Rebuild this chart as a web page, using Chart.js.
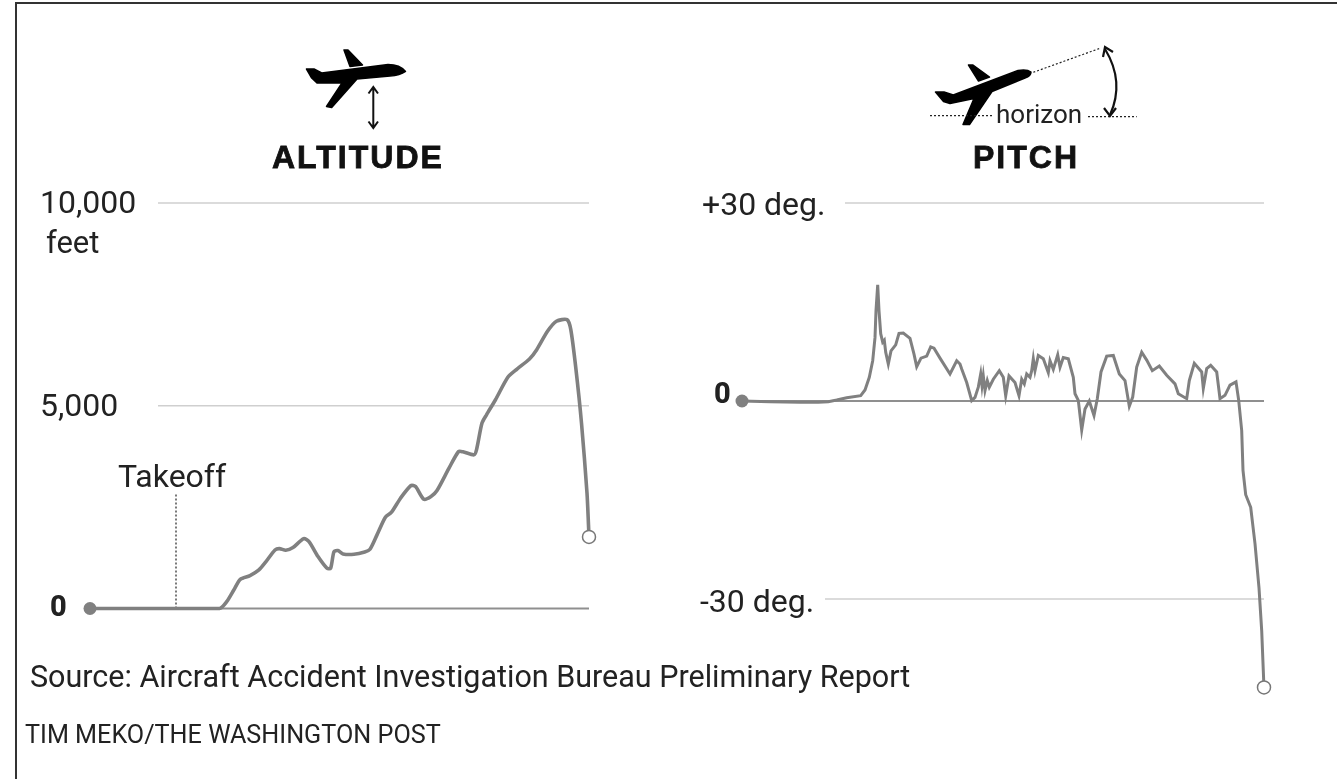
<!DOCTYPE html>
<html>
<head>
<meta charset="utf-8">
<title>Altitude and pitch</title>
<script src="https://cdn.jsdelivr.net/npm/chart.js@4/dist/chart.umd.min.js"></script>
<style>
    html, body { margin: 0; padding: 0; background: #fff; }
    #page { position: relative; width: 1337px; height: 779px; overflow: hidden; font-family: Roboto, sans-serif; color: #222; }
    #page::before { content: ''; position: absolute; left: 15px; top: 2px; right: -5px; bottom: -5px; border-left: 2px solid #333; border-top: 2px solid #333; }
    canvas { position: absolute; top: 0; }
    #altChart { left: 0; }
    #pitchChart { left: 668px; }
    #icons { position: absolute; left: 0; top: 0; }
    .txt { position: absolute; white-space: nowrap; line-height: 1; }
    .head { font-family: 'Liberation Sans', sans-serif; font-weight: 700; font-size: 32px; letter-spacing: 2px; color: #111; -webkit-text-stroke: 0.8px #111; }
</style>
</head>
<body>
<div id="page">
    <canvas id="altChart" width="668" height="779"></canvas>
    <canvas id="pitchChart" width="669" height="779"></canvas>
    <svg id="icons" width="1337" height="779" fill="#000">
        <g stroke="#000" stroke-width="1.5" stroke-linejoin="round">
            <path d="M306.5 69 L314 69 L321.7 73 L388 64.5 Q400 64.5 405.5 71.5 Q400 75.5 390 76 L357 79 L331.7 107.5 L326.5 106.5 L342 83 L317 83 L311.7 78 Z"/>
            <path d="M344 50 L348 50 L362.5 65 L350 66.5 Z"/>
            <path d="M935.5 92 L944 92 L953.3 95 L1018 70.5 Q1027 69 1031 72 Q1031 76 1025 78 L992 91.5 L969.5 124.5 L963 124.5 L974 98.5 L950 103.5 L943.5 101.5 Z"/>
            <path d="M968.5 65 L973 65 L989.5 77 L978.5 81 Z"/>
        </g>
        <path d="M373.3 88 V127 M368.5 93.5 L373.3 87 L378 93.5 M368.5 121.5 L373.3 128 L378 121.5" fill="none" stroke="#111" stroke-width="2"/>
        <path d="M1033.3 72.3 L1100 48.3" fill="none" stroke="#222" stroke-width="1.2" stroke-dasharray="2 2"/>
        <path d="M930 115.7 H993.3 M1088 116.7 H1136.7" fill="none" stroke="#222" stroke-width="1.2" stroke-dasharray="2 2"/>
        <path d="M1105 49 Q1125 82 1110 115" fill="none" stroke="#111" stroke-width="2.2"/>
        <path d="M1103 57 L1105 47 L1113 52 M1104 108 L1110 116 L1116 108" fill="none" stroke="#111" stroke-width="2.2"/>
    </svg>
    <div class="txt head" style="left:272px;top:141px">ALTITUDE</div>
    <div class="txt head" style="left:973px;top:141px">PITCH</div>
    <div class="txt" style="left:996px;top:101px;font-size:26px">horizon</div>
    <div class="txt" style="left:46px;top:227px;font-size:31px">feet</div>
    <div class="txt" style="left:30px;top:662px;font-size:30.5px">Source: Aircraft Accident Investigation Bureau Preliminary Report</div>
    <div class="txt" style="left:25px;top:722px;font-size:25.2px">TIM MEKO/THE WASHINGTON POST</div>
</div>
<script>
(function () {
    'use strict';

    // ─── DATA ───
    const altTime = [0, 60, 129.5, 136.7, 143.8, 150.3, 160, 168.9, 176, 185, 189.4, 195.8, 203, 213.7, 219, 228, 237, 240.6, 244, 247.8, 253, 264, 274.7, 280, 287, 295.4, 301.5, 310.5, 321, 325.6, 333.8, 341, 347, 359, 368.6, 373, 384, 386.5, 392, 396.5, 405.5, 418, 427, 439.5, 446.7, 457.5, 466.4, 477, 480.8, 486, 491.5, 497, 499];
    const altFeet = [0, 0, 0, 169, 457, 720, 811, 951, 1156, 1444, 1477, 1436, 1502, 1724, 1650, 1280, 992, 992, 1403, 1428, 1346, 1337, 1395, 1461, 1815, 2251, 2374, 2720, 3033, 3008, 2695, 2761, 2909, 3461, 3872, 3864, 3790, 3913, 4572, 4777, 5148, 5707, 5905, 6152, 6382, 6835, 7082, 7123, 6876, 5888, 4572, 2843, 1765];
    const altTicks = [10000, 5000, 0];
    const altTickLabels = ['10,000', '5,000', '0'];
    const altGridStart = [68, 68, 0];
    const takeoffTime = 86;
    const takeoffTop = 2850;

    const pitchTime = [0, 28, 58, 76.3, 86.3, 94.7, 104.7, 118.7, 123, 127.3, 130.7, 133, 134, 135.7, 137, 138.7, 140.7, 142.3, 143.7, 146.3, 149, 153.7, 157, 161.3, 168, 172, 174.7, 179, 184.7, 188.7, 192, 198, 208, 214.7, 218, 219.7, 224.7, 229.7, 233, 236.3, 238.7, 240, 241.3, 243, 245.3, 247.3, 251.3, 257.3, 261.3, 263.7, 267, 273, 277, 279.7, 282.3, 284.7, 288, 289.7, 291.3, 293, 296.3, 301.3, 306.3, 308, 311.3, 315.7, 318, 321.3, 326.3, 331.3, 333, 336.3, 339.7, 343, 347.3, 352, 355.3, 359, 364.7, 371.3, 377.3, 383, 387.3, 390.7, 394.7, 399.7, 404.7, 410.3, 417.3, 424.7, 433, 436.3, 444.7, 447.3, 452.3, 459.7, 461.3, 464.7, 468.7, 474.7, 478, 483, 488, 494, 496.7, 499.7, 501, 503.7, 508.7, 513, 517, 519.7, 521.7, 522];
    const pitchDeg = [0, -0.1, -0.2, -0.2, -0.1, 0.15, 0.5, 0.8, 1.67, 3.6, 6.1, 9.6, 13.7, 17.6, 13.7, 10.2, 8.9, 9.2, 7.4, 5.6, 7.6, 8.5, 10.25, 10.3, 9.5, 7.1, 5.2, 6.5, 6.8, 8.2, 8, 6.5, 4.1, 6.1, 5.6, 4.85, 2.8, 0.05, 0.55, 2.1, 4.1, 2.3, 3.8, 1.6, 3.1, 2.1, 3.3, 4.6, 3.6, 0.8, 3.8, 2.8, 0.8, 3.3, 2.6, 4.1, 3.6, 4.6, 6.4, 4.6, 6.9, 6.4, 4.3, 6.1, 4.8, 7, 5.1, 6.6, 6.4, 3.6, 1.1, 0.1, -4.4, -1.2, 0, -2.2, 0.35, 4.4, 6.8, 6.9, 4.1, 3.1, -0.8, 0.6, 5.15, 7.4, 6.2, 4.6, 5.3, 3.9, 2.6, 1.1, 0.35, 3.1, 5.7, 4.4, 1.9, 4.9, 5.4, 4.4, 0.35, 0.86, 2.4, 2.9, 0.1, -4.5, -10.5, -14.2, -16.1, -21.6, -28.3, -34.8, -42.4, -43.4];
    const pitchTicks = [30, 0, -30];
    const pitchTickLabels = ['+30 deg.', '0', '-30 deg.'];
    const pitchGridStart = [103, 0, 83];

    const LINE = '#808080';
    const GRID = '#cfcfcf';
    const BASE = '#8f8f8f';

    // ─── HELPERS ───
    const toPoints = (xs, ys) => xs.map((x, i) => ({ x, y: ys[i] }));

    function gridSets(ticks, starts, xEnd) {
        return ticks.map((t, i) => ({
            data: [{ x: starts[i], y: t }, { x: xEnd, y: t }],
            borderColor: t === 0 ? BASE : GRID,
            borderWidth: t === 0 ? 1.8 : 1.4,
            pointRadius: 0,
            clip: false,
            order: 5
        }));
    }

    // y axis labels sit at the scale's own pixel for each tick
    function tickLabelPlugin(ticks, labels, lefts, nudges) {
        return {
            id: 'tickLabels',
            afterDraw(chart) {
                const { ctx, scales } = chart;
                ctx.save();
                ctx.textBaseline = 'middle';
                ctx.fillStyle = '#222';
                ticks.forEach((t, i) => {
                    ctx.font = t === 0 ? '800 29px Roboto' : '400 32px Roboto';
                    ctx.fillText(labels[i], lefts[i], scales.y.getPixelForValue(t) + nudges[i]);
                });
                ctx.restore();
            }
        };
    }

    function makeChart(id, datasets, xMax, yMin, yMax, padding, plugins) {
        return new Chart(document.getElementById(id), {
            type: 'line',
            data: { datasets },
            options: {
                responsive: false,
                animation: false,
                layout: { padding },
                plugins: { legend: { display: false }, tooltip: { enabled: false } },
                scales: {
                    x: { type: 'linear', min: 0, max: xMax, display: false },
                    y: { type: 'linear', min: yMin, max: yMax, display: false }
                }
            },
            plugins
        });
    }

    function endDots(first, last) {
        return [{
            data: [first],
            pointRadius: 6.5, pointBackgroundColor: LINE, pointBorderColor: LINE, pointBorderWidth: 0,
            showLine: false, clip: false, order: 0
        }, {
            data: [last],
            pointRadius: 6.5, pointBackgroundColor: '#fff', pointBorderColor: '#777', pointBorderWidth: 1.5,
            showLine: false, clip: false, order: 0
        }];
    }

    // ─── ALTITUDE ───
    const altPoints = toPoints(altTime, altFeet);
    makeChart('altChart', [
        ...endDots(altPoints[0], altPoints[altPoints.length - 1]),
        { data: altPoints, borderColor: LINE, borderWidth: 3.6, tension: 0.25, pointRadius: 0, clip: false, order: 1 },
        { data: [{ x: takeoffTime, y: 0 }, { x: takeoffTime, y: takeoffTop }], borderColor: '#222', borderWidth: 1.2, borderDash: [2, 2], pointRadius: 0, clip: false, order: 2 },
        ...gridSets(altTicks, altGridStart, 499)
    ], 499, 0, 10000, { left: 90, right: 79, top: 203, bottom: 170.5 }, [
        tickLabelPlugin(altTicks, altTickLabels, [40, 40, 50], [2, 2, 0]),
        {
            id: 'takeoffLabel',
            afterDraw(chart) {
                const { ctx, scales } = chart;
                ctx.save();
                ctx.font = '400 32px Roboto';
                ctx.fillStyle = '#222';
                ctx.textBaseline = 'alphabetic';
                ctx.fillText('Takeoff', 118, scales.y.getPixelForValue(takeoffTop) - 6);
                ctx.restore();
            }
        }
    ]);

    // ─── PITCH ───
    const pitchPoints = toPoints(pitchTime, pitchDeg);
    makeChart('pitchChart', [
        ...endDots(pitchPoints[0], pitchPoints[pitchPoints.length - 1]),
        { data: pitchPoints, borderColor: LINE, borderWidth: 3, tension: 0, pointRadius: 0, clip: false, order: 1 },
        ...gridSets(pitchTicks, pitchGridStart, 522)
    ], 522, -45, 30, { left: 74, right: 73, top: 203, bottom: 81 }, [
        tickLabelPlugin(pitchTicks, pitchTickLabels, [34, 46, 32], [4, -5, 5])
    ]);
})();
</script>
</body>
</html>
